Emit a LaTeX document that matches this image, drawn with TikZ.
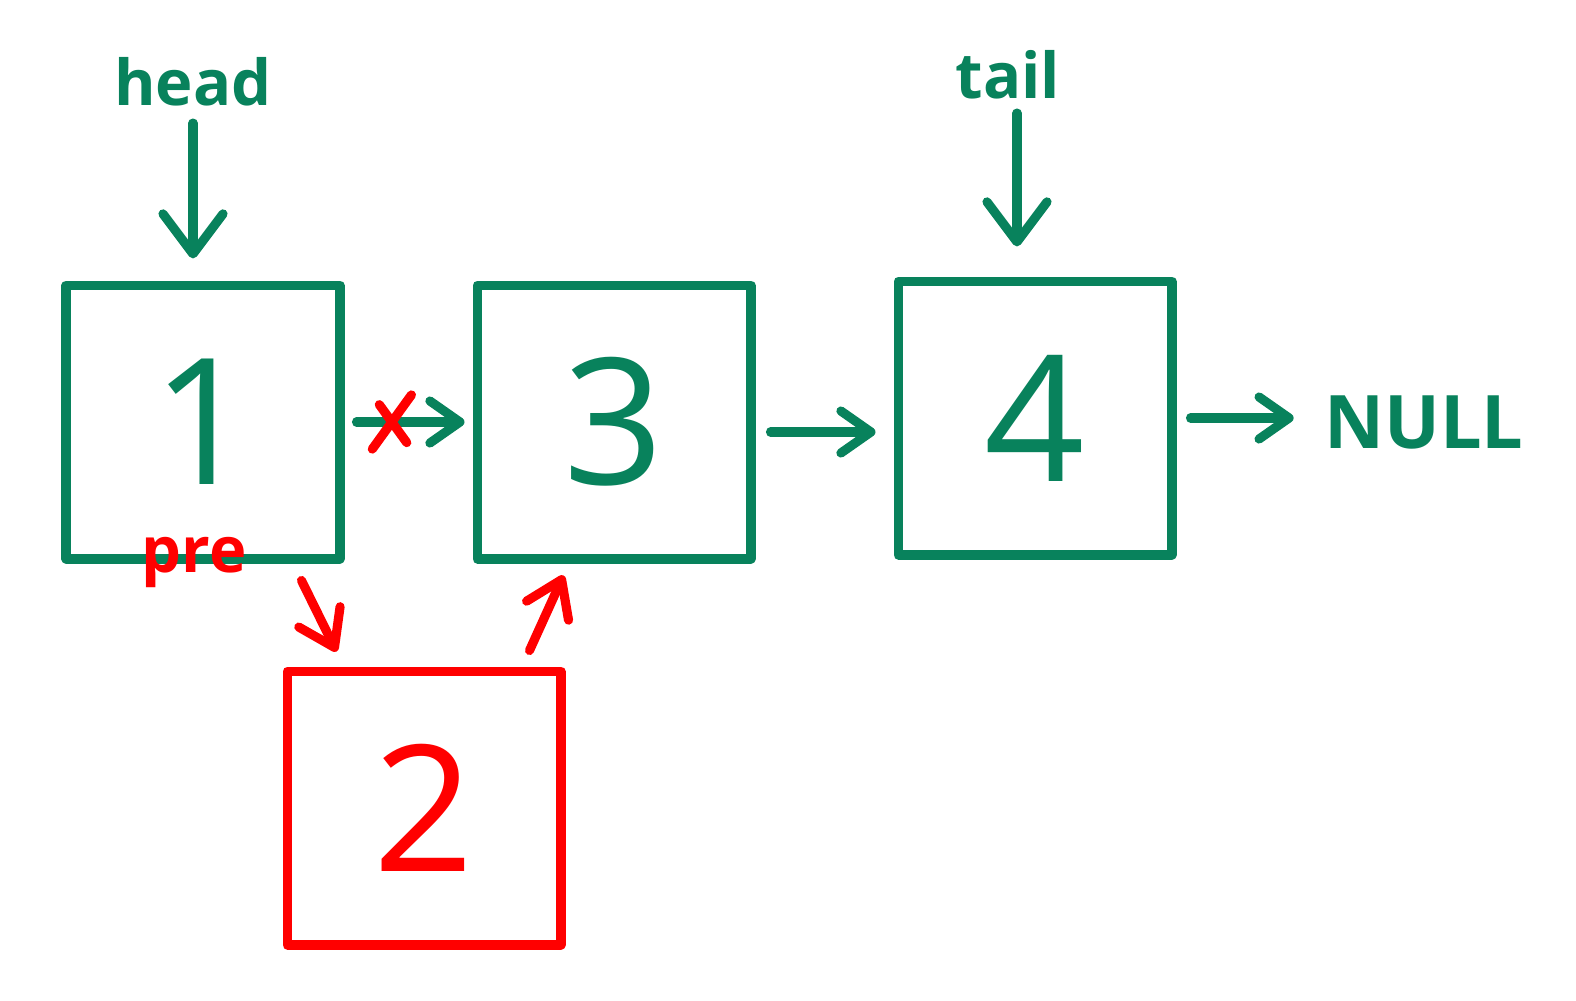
\documentclass[tikz,border=0pt]{standalone}
\usepackage{fontspec}
\setmainfont{Open Sans}
\usetikzlibrary{arrows.meta,shapes.misc}
\definecolor{listgreen}{RGB}{8,130,92}
\definecolor{listred}{RGB}{255,0,0}

\begin{document}
\begin{tikzpicture}[
		x=0.01cm, y=-0.01cm,
		box/.style={
			draw=listgreen,
			line width=2.8pt,
			line join=round,
			minimum size=2.73cm,
			inner sep=0pt,
			text=listgreen,
			font=\fontsize{50}{54}\selectfont
		},
		newbox/.style={box, draw=listred, text=listred},
		lbl/.style={inner sep=0pt, text=listgreen, font=\fontsize{18}{22}\selectfont\bfseries},
		link/.style={draw=listgreen, line width=2.6pt, line cap=round,
			-{Straight Barb[length=3mm,width=4.2mm,round]}},
		ptr/.style={link, -{Straight Barb[length=4mm,width=6mm,round]}},
		relink/.style={link, draw=listred, -{Straight Barb[length=3.4mm,width=4.6mm,round]}}
		]
		\useasboundingbox (0,0) rectangle (1576,1000);
		
		% List nodes
		\node[box] (b1) at (203,422) {1};
		\node[box] (b3) at (614,422) {3};
		\node[box] (b4) at (1035,418) {4};
		
		% Inserted node
		\node[newbox] (b2) at (424,808) {2};
		
		% Pointer labels
		\node[lbl] (head) at (193,82) {head};
		\node[lbl] (tail) at (1008,75) {tail};
		\node[lbl, font=\fontsize{21}{24}\selectfont\bfseries] (null) at (1424,422) {NULL};
		\node[lbl, text=listred] (pre) at (194,562) {pre};
		
		% Pointers
		\draw[ptr, shorten <=0.16cm, shorten >=0.22cm] (head.south) -- (head.south |- b1.north);
		\draw[ptr, shorten <=0.13cm, shorten >=0.30cm] ([xshift=0.09cm]tail.south) -- ([xshift=0.09cm]tail.south |- b4.north);
		
		% Old links
		\draw[link, shorten <=0.12cm, shorten >=0.08cm] (b1.east) -- (b3.west)
			node[pos=0.37, cross out, draw=listred, line width=2.6pt, line cap=round,
				minimum width=0.3cm, minimum height=0.45cm, inner sep=0pt] (cut) {};
		\draw[link, shorten <=0.15cm, shorten >=0.18cm] ([yshift=-0.1cm]b3.east) -- ([yshift=-0.1cm]b3.east -| b4.west);
		\draw[link, shorten <=0.14cm, shorten >=0.3cm] (b4.east) -- (b4.east -| null.west);
		
		% New links
		\draw[relink] ([shift={(-43,17)}]b1.south east) -- ([shift={(54,-15)}]b2.north west);
		\draw[relink] ([shift={(-36,-16)}]b2.north east) -- ([shift={(91,12)}]b3.south west);
		
	\end{tikzpicture}
\end{document}
